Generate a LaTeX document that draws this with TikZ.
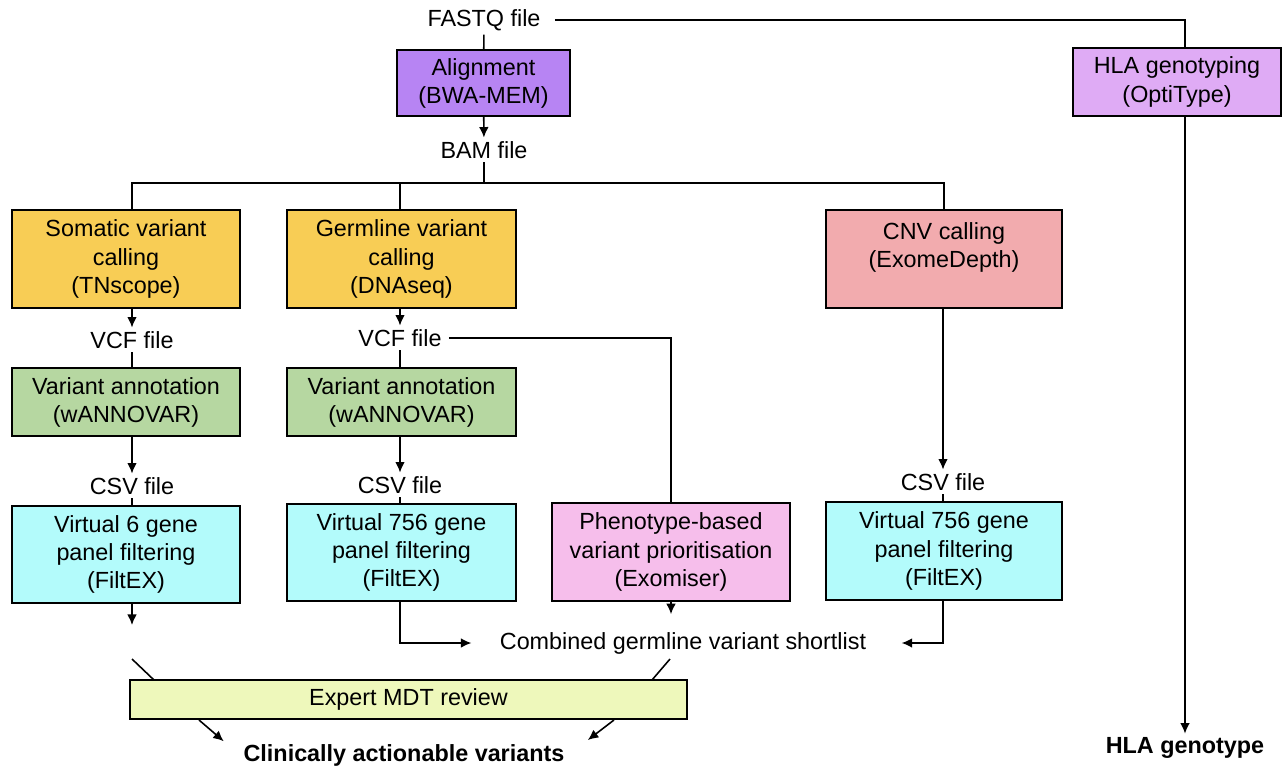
\documentclass[tikz,border=0pt]{standalone}
\usepackage{fontspec}
\setmainfont{Liberation Sans}
\usetikzlibrary{arrows.meta, positioning}

\definecolor{alignpurple}{HTML}{B784F3}
\definecolor{hlapurple}{HTML}{DFABF5}
\definecolor{callorange}{HTML}{F8CD55}
\definecolor{cnvpink}{HTML}{F2ABAE}
\definecolor{annogreen}{HTML}{B6D7A1}
\definecolor{filtcyan}{HTML}{B3FBFB}
\definecolor{phenopink}{HTML}{F6BEEB}
\definecolor{mdtyellow}{HTML}{EEF8BB}

\tikzset{
  procbox/.style={draw, line width=0.9pt, align=center, inner sep=0pt},
  filelbl/.style={inner sep=2pt},
  conn/.style={line width=0.9pt},
  arr/.style={line width=0.9pt, -{Latex[length=6pt,width=5.5pt]}}
}

\begin{document}
\begin{tikzpicture}[x=0.02cm, y=-0.02cm, font=\fontsize{13.3}{16}\selectfont]
\useasboundingbox (0,0) rectangle (1282,769);

% top: reads and alignment
\node[filelbl] (fastq) at (484,20) {FASTQ file};
\node[procbox, fill=alignpurple, minimum width=173*0.02cm, minimum height=66*0.02cm] (align) at (483.5,83) {Alignment\\(BWA-MEM)};
\node[filelbl] (bam) at (484,150) {BAM file};
\coordinate (split) at (484,183);

% HLA branch
\node[procbox, fill=hlapurple, minimum width=208*0.02cm, minimum height=68*0.02cm] (hla) at (1177,82) {HLA genotyping\\(OptiType)};
\node[filelbl, font=\fontsize{13.3}{16}\selectfont\bfseries] (hlagt) at (1185,748) {HLA genotype};

% calling
\node[procbox, fill=callorange, minimum width=228*0.02cm, minimum height=98*0.02cm] (somatic) at (126,259) {Somatic variant\\calling\\(TNscope)};
\node[procbox, fill=callorange, minimum width=229*0.02cm, minimum height=98*0.02cm] (germ) at (401.5,259) {Germline variant\\calling\\(DNAseq)};
\node[procbox, fill=cnvpink, minimum width=236*0.02cm, minimum height=98*0.02cm] (cnv) at (944,259) {CNV calling\\(ExomeDepth)\\\mbox{}};

% annotation
\node[filelbl] (vcfA) at (132,340) {VCF file};
\node[filelbl] (vcfB) at (400,338) {VCF file};
\node[procbox, fill=annogreen, minimum width=228*0.02cm, minimum height=68*0.02cm] (annA) at (126,402) {Variant annotation\\(wANNOVAR)};
\node[procbox, fill=annogreen, minimum width=229*0.02cm, minimum height=68*0.02cm] (annB) at (401.5,402) {Variant annotation\\(wANNOVAR)};

% filtering
\node[filelbl] (csvA) at (132,486) {CSV file};
\node[filelbl] (csvB) at (400,485) {CSV file};
\node[filelbl] (csvC) at (943,482) {CSV file};
\node[procbox, fill=filtcyan, minimum width=228*0.02cm, minimum height=97*0.02cm] (filtA) at (126,554.5) {Virtual 6 gene\\panel filtering\\(FiltEX)};
\node[procbox, fill=filtcyan, minimum width=229*0.02cm, minimum height=97*0.02cm] (filtB) at (401.5,552.5) {Virtual 756 gene\\panel filtering\\(FiltEX)};
\node[procbox, fill=phenopink, minimum width=238*0.02cm, minimum height=98*0.02cm] (pheno) at (671,552) {Phenotype-based\\variant prioritisation\\(Exomiser)};
\node[procbox, fill=filtcyan, minimum width=236*0.02cm, minimum height=98*0.02cm] (filtC) at (944,551) {Virtual 756 gene\\panel filtering\\(FiltEX)};

% review
\node[filelbl] (comb) at (683,643) {Combined germline variant shortlist};
\node[procbox, fill=mdtyellow, minimum width=557*0.02cm, minimum height=39*0.02cm] (mdt) at (408.5,699.5) {Expert MDT review};
\node[filelbl, font=\fontsize{13.3}{16}\selectfont\bfseries] (clin) at (404,755) {Clinically actionable variants};

\coordinate (somEnd) at (132,625);
\coordinate (inL) at (132,659);
\coordinate (inLb) at (154,680);
\coordinate (inR) at (670,659);
\coordinate (inRb) at (652,680);
\coordinate (outL) at (199,720);
\coordinate (outR) at (614,720);

% connectors
\draw[conn, shorten <=6pt] (fastq.east) -| (hlagt |- hla.north);
\draw[conn] (fastq) -- (align);
\draw[arr] (align) -- (bam);
\draw[conn] (bam) -- (split);
\draw[conn] (vcfA |- somatic.north) |- (split) -| (cnv.north);
\draw[conn] (split -| vcfB) -- (vcfB |- germ.north);
\draw[arr] (hlagt |- hla.south) -- (hlagt);

\draw[arr] (vcfA |- somatic.south) -- (vcfA);
\draw[conn] (vcfA) -- (vcfA |- annA.north);
\draw[arr] (csvA |- annA.south) -- (csvA);
\draw[conn] (csvA) -- (csvA |- filtA.north);
\draw[arr] (somEnd |- filtA.south) -- (somEnd);

\draw[arr] (vcfB |- germ.south) -- (vcfB);
\draw[conn] (vcfB) -- (vcfB |- annB.north);
\draw[conn, shorten <=2pt] (vcfB.east) -| (pheno.north);
\draw[arr] (csvB |- annB.south) -- (csvB);
\draw[conn] (csvB) -- (csvB |- filtB.north);
\draw[arr, shorten >=14pt] (csvB |- filtB.south) |- (comb.west);
\draw[arr, shorten >=8pt] (pheno.south) -- (pheno.south |- comb.north);

\draw[arr] (csvC |- cnv.south) -- (csvC);
\draw[conn] (csvC) -- (csvC |- filtC.north);
\draw[arr, shorten >=18pt] (csvC |- filtC.south) |- (comb.east);

\draw[conn] (inL) -- (inLb);
\draw[conn] (inR) -- (inRb);
\draw[arr, shorten >=12pt] (outL) -- (clin.west);
\draw[arr, shorten >=14pt] (outR) -- (clin.east);

\end{tikzpicture}
\end{document}
